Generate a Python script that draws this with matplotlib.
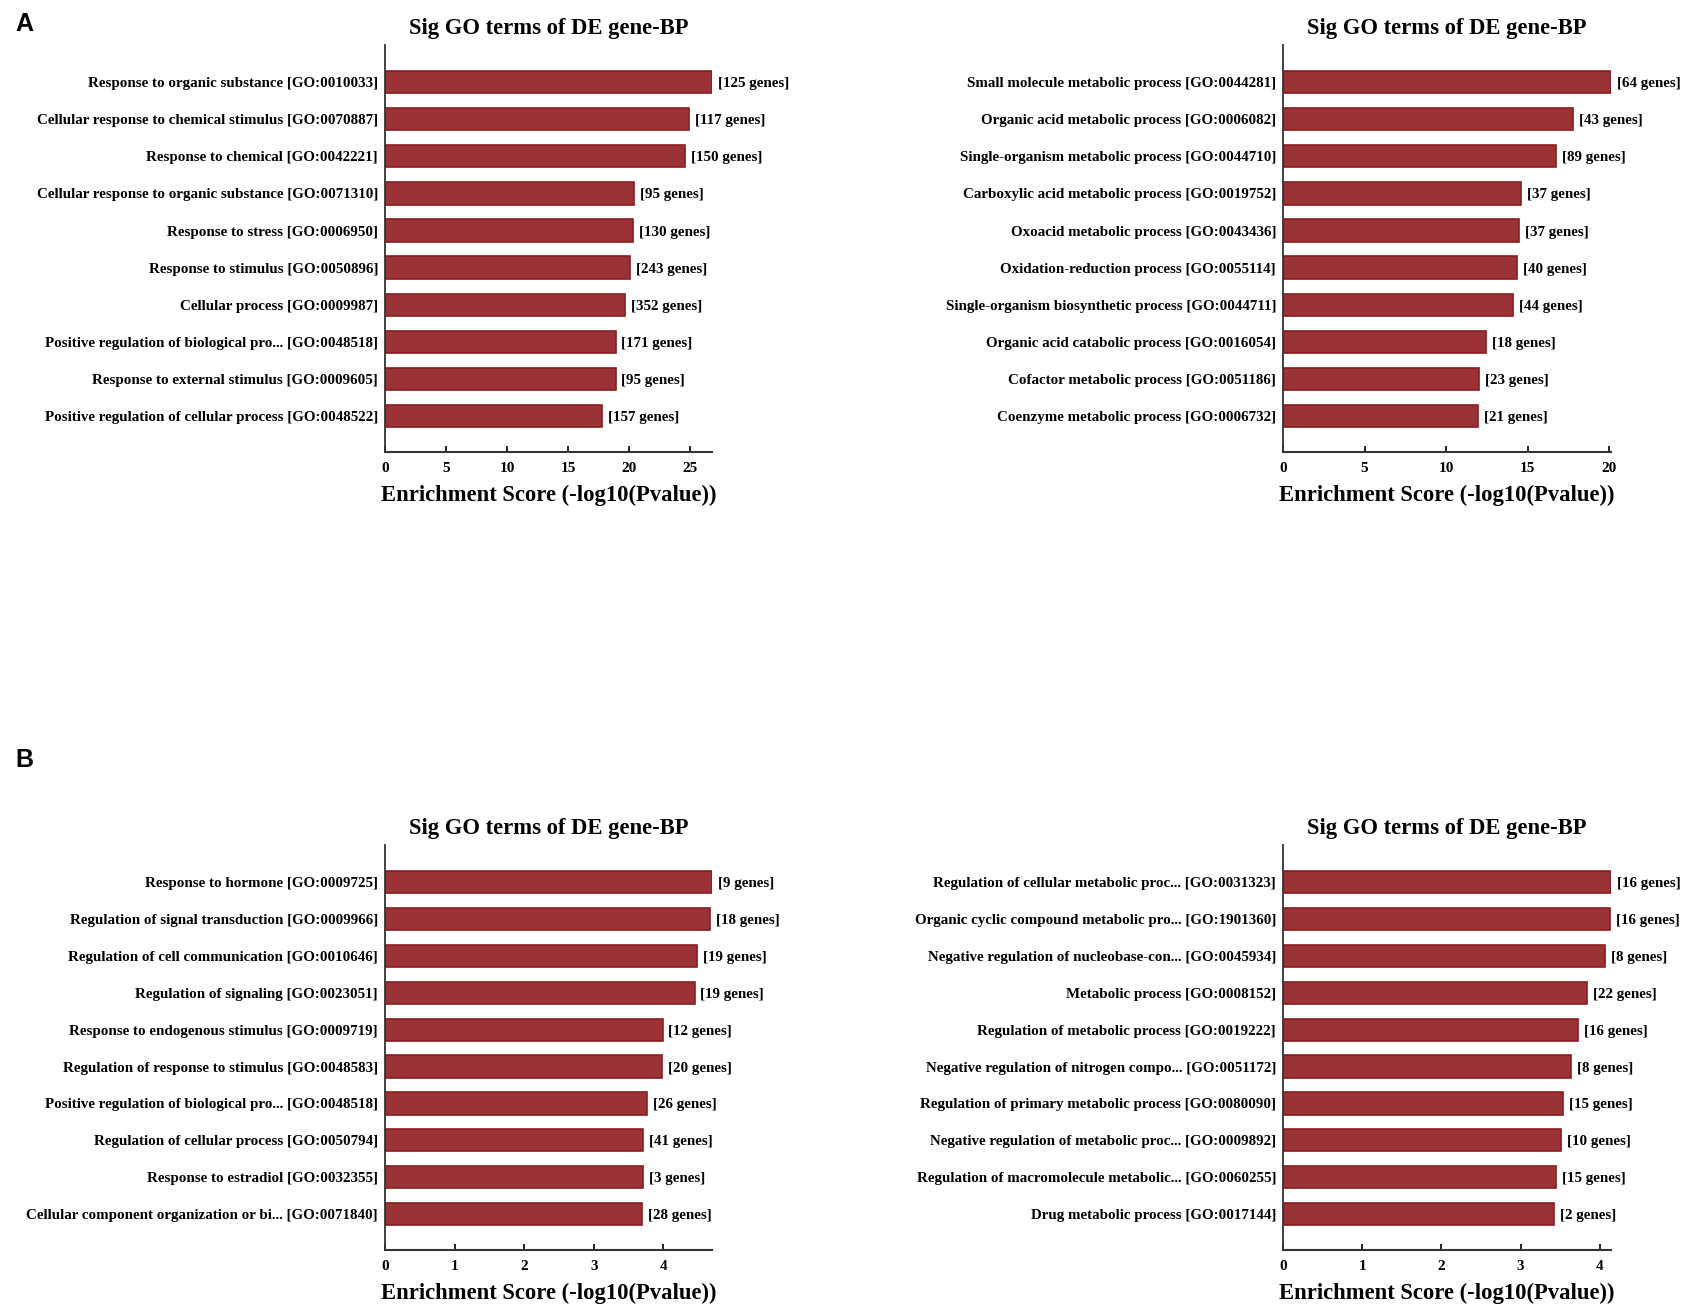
import matplotlib
matplotlib.use("Agg")
import matplotlib.pyplot as plt

# ----- data -----
termsA1 = ["Response to organic substance [GO:0010033]",
           "Cellular response to chemical stimulus [GO:0070887]",
           "Response to chemical [GO:0042221]",
           "Cellular response to organic substance [GO:0071310]",
           "Response to stress [GO:0006950]",
           "Response to stimulus [GO:0050896]",
           "Cellular process [GO:0009987]",
           "Positive regulation of biological pro... [GO:0048518]",
           "Response to external stimulus [GO:0009605]",
           "Positive regulation of cellular process [GO:0048522]"]
scoresA1 = [26.8, 24.9, 24.6, 20.4, 20.3, 20.1, 19.7, 18.9, 18.9, 17.8]
genesA1 = [125, 117, 150, 95, 130, 243, 352, 171, 95, 157]

termsA2 = ["Small molecule metabolic process [GO:0044281]",
           "Organic acid metabolic process [GO:0006082]",
           "Single-organism metabolic process [GO:0044710]",
           "Carboxylic acid metabolic process [GO:0019752]",
           "Oxoacid metabolic process [GO:0043436]",
           "Oxidation-reduction process [GO:0055114]",
           "Single-organism biosynthetic process [GO:0044711]",
           "Organic acid catabolic process [GO:0016054]",
           "Cofactor metabolic process [GO:0051186]",
           "Coenzyme metabolic process [GO:0006732]"]
scoresA2 = [20.1, 17.8, 16.75, 14.6, 14.45, 14.35, 14.1, 12.45, 12.0, 11.95]
genesA2 = [64, 43, 89, 37, 37, 40, 44, 18, 23, 21]

termsB1 = ["Response to hormone [GO:0009725]",
           "Regulation of signal transduction [GO:0009966]",
           "Regulation of cell communication [GO:0010646]",
           "Regulation of signaling [GO:0023051]",
           "Response to endogenous stimulus [GO:0009719]",
           "Regulation of response to stimulus [GO:0048583]",
           "Positive regulation of biological pro... [GO:0048518]",
           "Regulation of cellular process [GO:0050794]",
           "Response to estradiol [GO:0032355]",
           "Cellular component organization or bi... [GO:0071840]"]
scoresB1 = [4.70, 4.67, 4.49, 4.45, 3.99, 3.985, 3.77, 3.71, 3.71, 3.70]
genesB1 = [9, 18, 19, 19, 12, 20, 26, 41, 3, 28]

termsB2 = ["Regulation of cellular metabolic proc... [GO:0031323]",
           "Organic cyclic compound metabolic pro... [GO:1901360]",
           "Negative regulation of nucleobase-con... [GO:0045934]",
           "Metabolic process [GO:0008152]",
           "Regulation of metabolic process [GO:0019222]",
           "Negative regulation of nitrogen compo... [GO:0051172]",
           "Regulation of primary metabolic process [GO:0080090]",
           "Negative regulation of metabolic proc... [GO:0009892]",
           "Regulation of macromolecule metabolic... [GO:0060255]",
           "Drug metabolic process [GO:0017144]"]
scoresB2 = [4.14, 4.13, 4.06, 3.84, 3.72, 3.64, 3.535, 3.51, 3.45, 3.42]
genesB2 = [16, 16, 8, 22, 16, 8, 15, 10, 15, 2]

ticksA1 = [0, 5, 10, 15, 20, 25]
ticksA2 = [0, 5, 10, 15, 20]
ticksB = [0, 1, 2, 3, 4]

title = "Sig GO terms of DE gene-BP"
xlab = "Enrichment Score (-log10(Pvalue))"

plt.rcParams['font.family'] = ['Liberation Serif', 'DejaVu Serif']
plt.rcParams['font.weight'] = 'bold'

fig = plt.figure(figsize=(16.87, 13.12), dpi=100)

W, H = 1687.0, 1312.0
# axes boxes in pixels (left, top, right, bottom)
boxes = [(385, 45, 712, 452), (1283, 45, 1611, 452),
         (385, 845, 712, 1250), (1283, 845, 1611, 1250)]
panels = [(termsA1, scoresA1, genesA1, ticksA1),
          (termsA2, scoresA2, genesA2, ticksA2),
          (termsB1, scoresB1, genesB1, ticksB),
          (termsB2, scoresB2, genesB2, ticksB)]

for (l, t, r, b), (terms, scores, genes, ticks) in zip(boxes, panels):
    ax = fig.add_axes([l / W, 1 - b / H, (r - l) / W, (b - t) / H])
    y = list(range(len(terms)))
    ax.barh(y, scores, height=0.6, color='#9b3236', edgecolor='#8a1c20', linewidth=1.2)
    ax.set_ylim(len(terms) - 0.03, -1.0)
    ax.set_xlim(0, max(scores))
    ax.set_yticks(y)
    ax.set_yticklabels(terms, fontsize=10.8, fontweight='bold')
    ax.tick_params(axis='y', length=0, pad=5)
    ax.set_xticks(ticks)
    ax.tick_params(axis='x', direction='in', length=4, width=1.2, labelsize=11, pad=7.5)
    for lab in ax.get_xticklabels():
        lab.set_fontweight('bold')
    for yi, s, g in zip(y, scores, genes):
        ax.text(s + max(scores) * 0.018, yi, "[%d genes]" % g, va='center_baseline',
                ha='left', fontsize=10.8, fontweight='bold')
    ax.spines['top'].set_visible(False)
    ax.spines['right'].set_visible(False)
    ax.spines['left'].set_color('#333333')
    ax.spines['bottom'].set_color('#333333')
    ax.spines['left'].set_linewidth(1.3)
    ax.spines['bottom'].set_linewidth(1.5)
    ax.set_title(title, fontsize=16.3, fontweight='bold', pad=8)
    ax.set_xlabel(xlab, fontsize=16.3, fontweight='bold', labelpad=6.5)

fig.text(24 / W, 1 - 24 / H, "A", fontsize=18, fontweight='bold',
         family='Liberation Sans', ha='center', va='center')
fig.text(24 / W, 1 - 760 / H, "B", fontsize=18, fontweight='bold',
         family='Liberation Sans', ha='center', va='center')

fig.savefig("out.png", dpi=100)
